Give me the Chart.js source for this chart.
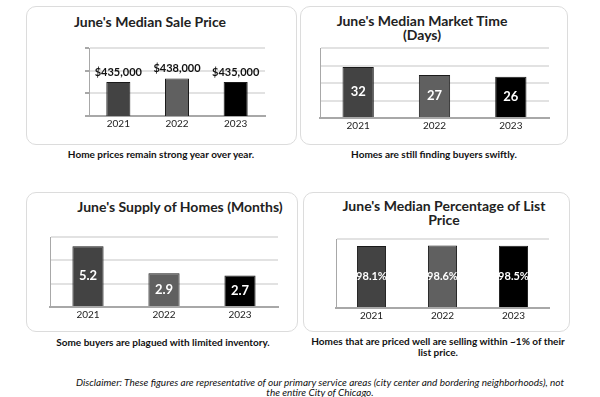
<!DOCTYPE html>
<html>
<head>
<meta charset="utf-8">
<script src="https://cdn.jsdelivr.net/npm/chart.js@4.4.0/dist/chart.umd.min.js"></script>
<style>
  html, body { margin: 0; padding: 0; background: #fff; }
  body { width: 600px; height: 397px; position: relative; overflow: hidden; font-family: "Lato", sans-serif; color: #111; }
  .panel { position: absolute; border: 1px solid #dcdcdc; border-radius: 10px; box-sizing: border-box; }
  .title { position: absolute; transform: translateX(-50%); text-align: center; font-weight: 700; font-size: 14px; line-height: 14px; white-space: nowrap; color: #222; }
  .caption { position: absolute; transform: translateX(-50%); text-align: center; font-size: 10px; line-height: 11px; white-space: nowrap; font-weight: 700; color: #111; }
  .plot { position: absolute; }
  .disclaimer { position: absolute; left: 320px; top: 377px; transform: translateX(-50%); text-align: center; font-style: italic; font-size: 10px; line-height: 10px; white-space: nowrap; color: #111; }
</style>
</head>
<body>
<div class="panel" style="left:26px;top:6px;width:271px;height:139px"></div>
<div class="panel" style="left:300px;top:6px;width:268px;height:139px"></div>
<div class="panel" style="left:26px;top:192px;width:272px;height:140px"></div>
<div class="panel" style="left:303px;top:192px;width:267px;height:140px"></div>

<div class="title" style="left:150px;top:15px">June's Median Sale Price</div>
<div class="title" style="left:422px;top:14px">June's Median Market Time<br>(Days)</div>
<div class="title" style="left:180px;top:200px">June's Supply of Homes (Months)</div>
<div class="title" style="left:444px;top:199px">June's Median Percentage of List<br>Price</div>

<div class="caption" style="left:161px;top:149px">Home prices remain strong year over year.</div>
<div class="caption" style="left:434px;top:149px">Homes are still finding buyers swiftly.</div>
<div class="caption" style="left:163px;top:337px">Some buyers are plagued with limited inventory.</div>
<div class="caption" style="left:438px;top:336px">Homes that are priced well are selling within ~1% of their<br>list price.</div>

<div class="disclaimer">Disclaimer: These figures are representative of our primary service areas (city center and bordering neighborhoods), not<br>the entire City of Chicago.</div>

<canvas id="c1" class="plot"></canvas>
<canvas id="c2" class="plot"></canvas>
<canvas id="c3" class="plot"></canvas>
<canvas id="c4" class="plot"></canvas>

<script>
// data
const years = ["2021", "2022", "2023"];
const salePrice = [435000, 438000, 435000];
const marketDays = [32, 27, 26];
const supplyMonths = [5.2, 2.9, 2.7];
const listPercent = [98.1, 98.6, 98.5];
const barColors = ["#434343", "#606060", "#000000"];

// draws the value on each bar, above it or in its middle
function barLabels(opts) {
    return {
        id: "barLabels",
        afterDatasetsDraw: function (chart) {
            const ctx = chart.ctx;
            const meta = chart.getDatasetMeta(0);
            const values = chart.data.datasets[0].data;
            ctx.save();
            ctx.font = opts.font;
            ctx.fillStyle = opts.color;
            ctx.textAlign = "center";
            ctx.textBaseline = "middle";
            meta.data.forEach(function (bar, i) {
                const y = opts.inside ? (bar.y + bar.base) / 2 : bar.y - 10;
                ctx.fillText(opts.format(values[i]), bar.x, y);
            });
            ctx.restore();
        },
    };
}

function makeChart(id, box, values, yScale, labelOpts, tickMarks) {
    // box = plot area in page pixels: left, top, right, bottom
    const canvas = document.getElementById(id);
    canvas.width = box.right - box.left + 7;
    canvas.height = box.bottom - box.top + 22;
    canvas.style.left = box.left - 5 + "px";
    canvas.style.top = box.top - 2 + "px";

    return new Chart(canvas, {
        type: "bar",
        data: {
            labels: years,
            datasets: [
                {
                    data: values,
                    backgroundColor: barColors,
                    borderColor: "#1a1a1a",
                    borderWidth: 1,
                    barPercentage: 0.41,
                    categoryPercentage: 1,
                },
            ],
        },
        options: {
            responsive: false,
            animation: false,
            layout: { padding: { left: 1, top: 2, right: 2, bottom: 0 } },
            plugins: {
                legend: { display: false },
                tooltip: { enabled: false },
            },
            scales: {
                x: {
                    grid: { display: false, drawTicks: false },
                    border: { display: true, color: "#a8a8a8", width: 2 },
                    ticks: {
                        padding: 2,
                        color: "#222",
                        font: { family: "Lato", size: 10 },
                    },
                    afterFit: function (s) {
                        s.height = 20;
                    },
                },
                y: {
                    min: yScale.min,
                    max: yScale.max,
                    grid: {
                        color: "#e2e2e2",
                        lineWidth: 2,
                        drawTicks: tickMarks,
                        tickLength: 4,
                        tickColor: "#a8a8a8",
                    },
                    border: { display: true, color: "#a8a8a8", width: 1 },
                    ticks: { display: false, stepSize: yScale.step },
                    afterFit: function (s) {
                        s.width = 4;
                    },
                },
            },
        },
        plugins: [barLabels(labelOpts)],
    });
}

makeChart(
    "c1",
    { left: 89, top: 48, right: 265, bottom: 116 },
    salePrice,
    { min: 405000, max: 465000, step: 20000 },
    {
        inside: false,
        color: "#111",
        font: "700 11px Lato",
        format: (v) => "$" + v.toLocaleString("en-US"),
    },
    true
);

makeChart(
    "c2",
    { left: 320, top: 48, right: 549, bottom: 118 },
    marketDays,
    { min: 0, max: 44, step: 11 },
    { inside: true, color: "#fff", font: "700 13px Lato", format: (v) => String(v) },
    false
);

makeChart(
    "c3",
    { left: 50, top: 237, right: 278, bottom: 307 },
    supplyMonths,
    { min: 0, max: 6, step: 2 },
    { inside: true, color: "#fff", font: "700 13px Lato", format: (v) => v.toFixed(1) },
    false
);

makeChart(
    "c4",
    { left: 336, top: 239, right: 549, bottom: 308 },
    listPercent,
    { min: 0, max: 109, step: 109 },
    { inside: true, color: "#fff", font: "700 11px Lato", format: (v) => v.toFixed(1) + "%" },
    false
);
</script>
</body>
</html>
